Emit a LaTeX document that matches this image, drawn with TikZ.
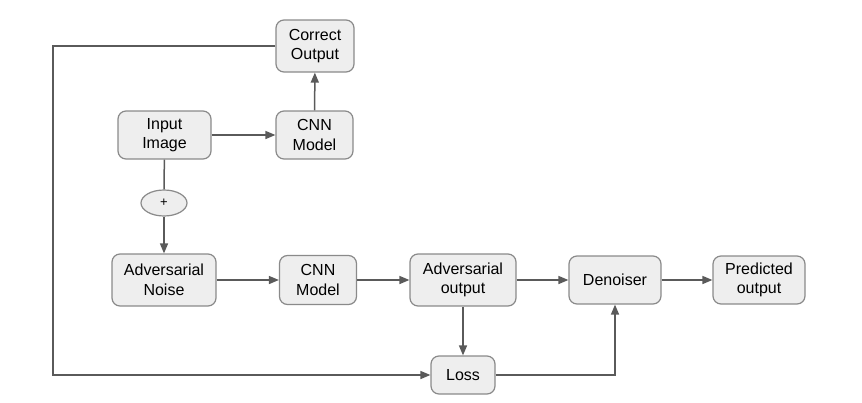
\documentclass[tikz,border=0pt]{standalone}
\usepackage{fontspec}
\setmainfont{Liberation Sans}
\usetikzlibrary{arrows.meta,shapes.geometric}
\definecolor{boxfill}{HTML}{EEEEEE}
\definecolor{boxline}{HTML}{8A8A8A}
\definecolor{conn}{HTML}{5A5A5A}
\begin{document}
\begin{tikzpicture}[x=1pt,y=-1pt,
  blk/.style={draw=boxline,fill=boxfill,line width=1.2pt,rounded corners=8pt,
    align=center,inner sep=0pt,font=\fontsize{16}{19.5}\selectfont},
  conn/.style={draw=conn,line width=1.5pt,-{Triangle[length=10pt,width=8pt]}},
  plain/.style={draw=conn,line width=1.5pt}]
\useasboundingbox (0,0) rectangle (862,402);
\node[blk,minimum width=78pt,minimum height=52pt] (co) at (315,46) {Correct\\Output};
\node[blk,minimum width=93pt,minimum height=48pt] (ii) at (164.5,135) {Input\\Image};
\node[blk,minimum width=77pt,minimum height=48pt] (cnn1) at (314.5,135) {CNN\\Model};
\node[draw=boxline,fill=boxfill,line width=1.2pt,ellipse,minimum width=46pt,minimum height=26pt,inner sep=0pt,font=\fontsize{13}{15}\selectfont] (plus) at (164,203) {+};
\node[blk,minimum width=104pt,minimum height=52pt] (an) at (164,280) {Adversarial\\Noise};
\node[blk,minimum width=77pt,minimum height=49pt] (cnn2) at (318,280) {CNN\\Model};
\node[blk,minimum width=106pt,minimum height=52pt] (ao) at (463,280) {Adversarial\\output};
\node[blk,minimum width=92pt,minimum height=48pt] (dn) at (615,280) {Denoiser};
\node[blk,minimum width=92pt,minimum height=48pt] (po) at (759,280) {Predicted\\output};
\node[blk,minimum width=64pt,minimum height=38pt] (loss) at (463,375) {Loss};
\coordinate (c1) at (53,46);
\coordinate (c2) at (53,375);
\coordinate (c3) at (615,375);
\draw[conn] (ii) -- (cnn1);
\draw[conn] (cnn1) -- (co);
\draw[plain] (ii) -- (plus);
\draw[conn] (plus) -- (an);
\draw[conn] (an) -- (cnn2);
\draw[conn] (cnn2) -- (ao);
\draw[conn] (ao) -- (dn);
\draw[conn] (dn) -- (po);
\draw[conn] (ao) -- (loss);
\draw[conn] (co.west) -- (c1) -- (c2) -- (loss.west);
\draw[conn] (loss.east) -- (c3) -- (dn.south);
\end{tikzpicture}
\end{document}
